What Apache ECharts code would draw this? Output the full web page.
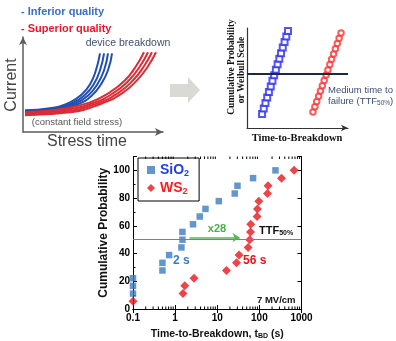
<!DOCTYPE html>
<html>
<head>
<meta charset="utf-8">
<script src="https://cdn.jsdelivr.net/npm/echarts@6/dist/echarts.min.js"></script>
<style>
  html, body { margin: 0; padding: 0; background: #fff; }
  #chart { width: 396px; height: 341px; }
</style>
</head>
<body>
<div id="chart"></div>
<script>
// main plot: time-to-breakdown (s) vs cumulative probability (%)
var sio2Time = [0.1, 0.1, 0.1, 0.5, 0.5, 0.72, 1.41, 1.49, 1.49, 2.66, 3.84, 5.25, 10.9, 26, 30.2, 70.8, 241];
var sio2Prob = [11.1, 16.7, 22.2, 27.8, 33.3, 38.9, 44.4, 50, 55.6, 61.1, 66.7, 72.2, 77.8, 83.3, 88.9, 94.4, 100];
var ws2Time  = [0.1, 1.54, 1.69, 2.81, 16.5, 28.6, 33, 54, 59, 61.5, 62.5, 88, 90, 97, 156, 161, 335, 667];
var ws2Prob  = [5.6, 11.1, 16.7, 22.2, 27.8, 33.3, 38.9, 44.4, 50, 55.6, 61.1, 66.7, 72.2, 77.8, 83.3, 88.9, 94.4, 100];
var xMajorLabels = ['0.1', '1', '10', '100', '1000'];
var xMinorTicks = [0.2, 0.3, 0.4, 0.5, 0.6, 0.7, 0.8, 0.9,
                   2, 3, 4, 5, 6, 7, 8, 9,
                   20, 30, 40, 50, 60, 70, 80, 90,
                   200, 300, 400, 500, 600, 700, 800, 900];
var ttfProb = 50;
var arrowFrom = 2.2, arrowTo = 34, arrowProb = 51.5;

// top-left sketch: current vs stress time (arbitrary units), 4 lines per bundle
var inferiorLines = [
  [[0.14, 2.28], [1.93, 2.49], [3.36, 3.12], [4.21, 3.97], [4.79, 5.02], [5.21, 6.5], [5.5, 8.28]],
  [[0.14, 2.18], [2.05, 2.42], [3.55, 3.05], [4.45, 3.94], [5.05, 5.02], [5.5, 6.5], [5.79, 8.28]],
  [[0.14, 2.08], [2.17, 2.30], [3.74, 2.98], [4.69, 3.90], [5.31, 5.02], [5.79, 6.5], [6.07, 8.28]],
  [[0.14, 1.97], [2.29, 2.18], [3.93, 2.92], [4.93, 3.86], [5.57, 5.02], [6.07, 6.5], [6.36, 8.28]]
];
var superiorLines = [
  [[0.14, 2.07], [2.64, 2.39], [4.79, 3.12], [6.21, 4.18], [7.29, 5.44], [8.07, 6.92], [8.64, 8.39]],
  [[0.14, 1.97], [2.88, 2.29], [5.02, 3.05], [6.50, 4.14], [7.57, 5.44], [8.36, 6.92], [8.93, 8.39]],
  [[0.14, 1.86], [3.12, 2.18], [5.26, 2.98], [6.79, 4.10], [7.86, 5.44], [8.64, 6.92], [9.21, 8.39]],
  [[0.14, 1.76], [3.36, 2.07], [5.50, 2.92], [7.07, 4.07], [8.14, 5.44], [8.93, 6.92], [9.50, 8.39]]
];

// top-right sketch: weibull plot (arbitrary units)
var blueTX = [1.49, 1.66, 1.83, 2.0, 2.17, 2.35, 2.52, 2.69, 2.86, 3.03, 3.2, 3.37, 3.54, 3.72, 3.89, 4.06];
var blueTY = [1.4, 1.95, 2.5, 3.06, 3.61, 4.16, 4.72, 5.27, 5.82, 6.38, 6.93, 7.48, 8.04, 8.59, 9.14, 9.7];
var redTX  = [6.53, 6.72, 6.9, 7.09, 7.27, 7.46, 7.64, 7.83, 8.01, 8.2, 8.38, 8.57, 8.75, 8.94, 9.12, 9.31];
var redTY  = [1.6, 2.13, 2.65, 3.18, 3.71, 4.23, 4.76, 5.29, 5.81, 6.34, 6.87, 7.39, 7.92, 8.45, 8.97, 9.5];
var medianLevel = 5.4;

function zip(xs, ys) {
  var out = [];
  for (var i = 0; i < xs.length; i++) out.push([xs[i], ys[i]]);
  return out;
}

var SANS = '"Liberation Sans", Arial, sans-serif';
var SERIF = '"Liberation Serif", "Times New Roman", serif';
var myChart = echarts.init(document.getElementById('chart'), null, {renderer: 'canvas'});

var series = [];

// sketch bundles
inferiorLines.forEach(function (l) {
  series.push({type: 'line', xAxisIndex: 2, yAxisIndex: 2, data: l, smooth: true, symbol: 'none',
    lineStyle: {color: '#1f4fb0', width: 2}, silent: true});
});
superiorLines.forEach(function (l) {
  series.push({type: 'line', xAxisIndex: 2, yAxisIndex: 2, data: l, smooth: true, symbol: 'none',
    lineStyle: {color: '#dc2c36', width: 2}, silent: true});
});

series.push({
  type: 'scatter', xAxisIndex: 3, yAxisIndex: 3, data: zip(blueTX, blueTY),
  symbol: 'emptyRect', symbolSize: 6, itemStyle: {color: '#2b2cf2', borderWidth: 1.3},
  markLine: {silent: true, symbol: ['none', 'none'], label: {show: false},
    lineStyle: {color: '#1b2a44', width: 2, type: 'solid'}, data: [{yAxis: medianLevel}]}
});
series.push({
  type: 'scatter', xAxisIndex: 3, yAxisIndex: 3, data: zip(redTX, redTY),
  symbol: 'emptyCircle', symbolSize: 5.5, itemStyle: {color: '#ff3030', borderWidth: 1.2}
});

// minor log ticks on bottom and top of main plot
series.push({
  type: 'custom', xAxisIndex: 0, yAxisIndex: 0, silent: true, data: xMinorTicks,
  renderItem: function (params, api) {
    var v = api.value(0);
    var b = api.coord([v, 0]);
    var t = api.coord([v, 110]);
    return {type: 'group', children: [
      {type: 'line', shape: {x1: b[0], y1: b[1], x2: b[0], y2: b[1] - 2.5}, style: {stroke: '#000', lineWidth: 1}},
      {type: 'line', shape: {x1: t[0], y1: t[1], x2: t[0], y2: t[1] + 2.5}, style: {stroke: '#000', lineWidth: 1}}
    ]};
  },
  encode: {x: 0}
});

series.push({
  name: 'SiO2', type: 'scatter', xAxisIndex: 0, yAxisIndex: 0, data: zip(sio2Time, sio2Prob),
  symbol: 'rect', symbolSize: 6.5, itemStyle: {color: '#3b7cc0'}, z: 3,
  markLine: {silent: true, animation: false, symbol: ['none', 'none'], label: {show: false}, data: [
    {yAxis: ttfProb, lineStyle: {color: '#808080', width: 1, type: 'solid'}},
    [{coord: [arrowFrom, arrowProb]},
     {coord: [arrowTo, arrowProb], symbol: 'arrow', symbolSize: 7, lineStyle: {color: '#56b656', width: 1.5, type: 'solid'}}]
  ]}
});
series.push({
  name: 'WS2', type: 'scatter', xAxisIndex: 0, yAxisIndex: 0, data: zip(ws2Time, ws2Prob),
  symbol: 'diamond', symbolSize: 9, itemStyle: {color: '#e8151c'}, z: 4
});

var option = {
  animation: false,
  backgroundColor: '#fff',
  textStyle: {fontFamily: SANS},
  grid: [
    {left: 133, top: 156.5, width: 168.5, height: 153.5},
    {left: 23, top: 37, width: 140, height: 95},
    {left: 247, top: 28, width: 101, height: 100}
  ],
  legend: {
    left: 138, top: 158, orient: 'vertical', itemGap: 3, padding: [5, 10, 5, 9],
    borderColor: '#000', borderWidth: 1, itemWidth: 8, itemHeight: 8, selectedMode: false,
    data: [{name: 'SiO2', icon: 'rect'}, {name: 'WS2', icon: 'diamond'}],
    formatter: function (name) {
      return name === 'SiO2' ? '{b|SiO}{bs|2}' : '{r|WS}{rs|2}';
    },
    textStyle: {
      fontFamily: SANS,
      rich: {
        b: {color: '#2240e6', fontSize: 14, fontWeight: 'bold', fontFamily: SANS},
        bs: {color: '#2240e6', fontSize: 9, fontWeight: 'bold', fontFamily: SANS, padding: [7, 0, 0, 0]},
        r: {color: '#ff1c1c', fontSize: 14, fontWeight: 'bold', fontFamily: SANS},
        rs: {color: '#ff1c1c', fontSize: 9, fontWeight: 'bold', fontFamily: SANS, padding: [7, 0, 0, 0]}
      }
    }
  },
  xAxis: [
    {
      type: 'log', logBase: 10, min: 0.1, max: 1000, gridIndex: 0,
      name: '{a|Time-to-Breakdown, t}{s|BD}{a| (s)}', nameLocation: 'middle', nameGap: 19,
      nameTextStyle: {rich: {
        a: {fontSize: 10.5, fontWeight: 'bold', color: '#111', fontFamily: SANS},
        s: {fontSize: 7, fontWeight: 'bold', color: '#111', fontFamily: SANS, padding: [5, 0, 0, 0]}
      }},
      axisLine: {lineStyle: {color: '#000', width: 1}},
      axisTick: {inside: true, length: 4, lineStyle: {color: '#000'}},
      axisLabel: {margin: 4, fontSize: 10, fontWeight: 'bold', color: '#000', fontFamily: SANS,
        formatter: function (v) {
          var i = Math.round(Math.log10(v)) + 1;
          return xMajorLabels[i] !== undefined ? xMajorLabels[i] : '';
        }},
      splitLine: {show: false}
    },
    {
      type: 'log', logBase: 10, min: 0.1, max: 1000, gridIndex: 0, position: 'top',
      axisLine: {lineStyle: {color: '#000', width: 1}},
      axisTick: {inside: true, length: 4, lineStyle: {color: '#000'}},
      axisLabel: {show: false}, splitLine: {show: false}
    },
    {
      type: 'value', min: 0, max: 10, gridIndex: 1,
      axisLine: {symbol: ['none', 'arrow'], symbolSize: [6, 8], lineStyle: {color: '#5c5c5c', width: 1.5}},
      axisTick: {show: false}, axisLabel: {show: false}, splitLine: {show: false}
    },
    {
      type: 'value', min: 0, max: 10, gridIndex: 2,
      axisLine: {symbol: ['none', 'arrow'], symbolSize: [5, 7], lineStyle: {color: '#333', width: 1.2}},
      axisTick: {show: false}, axisLabel: {show: false}, splitLine: {show: false}
    }
  ],
  yAxis: [
    {
      type: 'value', min: 0, max: 110, interval: 20, gridIndex: 0,
      name: 'Cumulative Probability', nameLocation: 'middle', nameGap: 20,
      nameTextStyle: {fontSize: 12, fontWeight: 'bold', color: '#111', fontFamily: SANS},
      axisLine: {show: true, lineStyle: {color: '#000', width: 1}},
      axisTick: {inside: true, length: 4, lineStyle: {color: '#000'}},
      minorTick: {show: true, splitNumber: 2, length: 2.5, lineStyle: {color: '#000'}},
      axisLabel: {margin: 3, fontSize: 10, fontWeight: 'bold', color: '#000', showMaxLabel: false, fontFamily: SANS},
      splitLine: {show: false}
    },
    {
      type: 'value', min: 0, max: 110, interval: 20, gridIndex: 0, position: 'right',
      axisLine: {show: true, lineStyle: {color: '#000', width: 1}},
      axisTick: {inside: true, length: 4, lineStyle: {color: '#000'}},
      axisLabel: {show: false}, splitLine: {show: false}
    },
    {
      type: 'value', min: 0, max: 10, gridIndex: 1,
      axisLine: {show: true, symbol: ['none', 'arrow'], symbolSize: [6, 8], lineStyle: {color: '#5c5c5c', width: 1.5}},
      axisTick: {show: false}, axisLabel: {show: false}, splitLine: {show: false}
    },
    {
      type: 'value', min: 0, max: 10, gridIndex: 2,
      axisLine: {show: true, lineStyle: {color: '#333', width: 1.2}},
      axisTick: {show: false}, axisLabel: {show: false}, splitLine: {show: false}
    }
  ],
  graphic: [
    // sketch texts
    {type: 'text', x: 21, y: 12, style: {text: '- Inferior quality', fill: '#3b6ec4', font: 'bold 11px ' + SANS, verticalAlign: 'middle', textVerticalAlign: 'middle'}},
    {type: 'text', x: 21, y: 29, style: {text: '- Superior quality', fill: '#e8182a', font: 'bold 11px ' + SANS, verticalAlign: 'middle', textVerticalAlign: 'middle'}},
    {type: 'text', x: 128, y: 43, style: {text: 'device breakdown', fill: '#3f5070', font: '10.5px ' + SANS, align: 'center', textAlign: 'center', verticalAlign: 'middle', textVerticalAlign: 'middle'}},
    {type: 'text', x: 77, y: 122, style: {text: '(constant field stress)', fill: '#555', font: '9.5px ' + SANS, align: 'center', textAlign: 'center', verticalAlign: 'middle', textVerticalAlign: 'middle'}},
    {type: 'text', x: 12, y: 85, rotation: Math.PI / 2, style: {text: 'Current', fill: '#444', font: '16px ' + SANS, align: 'center', textAlign: 'center', verticalAlign: 'middle', textVerticalAlign: 'middle'}},
    {type: 'text', x: 87, y: 142, style: {text: 'Stress time', fill: '#444', font: '16px ' + SANS, align: 'center', textAlign: 'center', verticalAlign: 'middle', textVerticalAlign: 'middle'}},
    {type: 'polygon', shape: {points: [[170, 84], [188, 84], [188, 77], [200, 90], [188, 103], [188, 97], [170, 97]]}, style: {fill: '#d9d9d5'}},
    {type: 'text', x: 232, y: 67, rotation: Math.PI / 2, style: {text: 'Cumulative Probability', fill: '#111', font: 'bold 9.5px ' + SERIF, align: 'center', textAlign: 'center', verticalAlign: 'middle', textVerticalAlign: 'middle'}},
    {type: 'text', x: 242, y: 70, rotation: Math.PI / 2, style: {text: 'or Weibull Scale', fill: '#111', font: 'bold 9.5px ' + SERIF, align: 'center', textAlign: 'center', verticalAlign: 'middle', textVerticalAlign: 'middle'}},
    {type: 'text', x: 297, y: 138, style: {text: 'Time-to-Breakdown', fill: '#111', font: 'bold 10.5px ' + SERIF, align: 'center', textAlign: 'center', verticalAlign: 'middle', textVerticalAlign: 'middle'}},
    {type: 'text', x: 328, y: 90, style: {text: 'Medium time to', fill: '#3a4f73', font: '9.5px ' + SANS, verticalAlign: 'middle', textVerticalAlign: 'middle'}},
    {type: 'text', x: 328, y: 101, style: {text: '{a|failure (TTF}{s|50%}{a|)}', font: '9.5px ' + SANS, verticalAlign: 'middle', textVerticalAlign: 'middle',
      rich: {a: {fill: '#3a4f73', color: '#3a4f73', fontSize: 9.5, fontFamily: SANS}, s: {fill: '#3a4f73', color: '#3a4f73', fontSize: 6.5, fontFamily: SANS, padding: [4, 0, 0, 0]}}}},
    // main plot annotations
    {type: 'text', x: 217, y: 229, style: {text: 'x28', fill: '#4cae4c', font: 'bold 11px ' + SANS, align: 'center', textAlign: 'center', verticalAlign: 'middle', textVerticalAlign: 'middle'}},
    {type: 'text', x: 259, y: 231, style: {text: '{a|TTF}{s|50%}', font: 'bold 11px ' + SANS, verticalAlign: 'middle', textVerticalAlign: 'middle',
      rich: {a: {fill: '#111', color: '#111', fontSize: 11, fontWeight: 'bold', fontFamily: SANS}, s: {fill: '#111', color: '#111', fontSize: 7, fontWeight: 'bold', fontFamily: SANS, padding: [5, 0, 0, 0]}}}},
    {type: 'text', x: 173, y: 261, style: {text: '2 s', fill: '#3b7cc0', font: 'bold 12px ' + SANS, verticalAlign: 'middle', textVerticalAlign: 'middle'}},
    {type: 'text', x: 243, y: 261, style: {text: '56 s', fill: '#e8151c', font: 'bold 12px ' + SANS, verticalAlign: 'middle', textVerticalAlign: 'middle'}},
    {type: 'text', x: 257, y: 300, style: {text: '7 MV/cm', fill: '#111', font: 'bold 9.5px ' + SANS, verticalAlign: 'middle', textVerticalAlign: 'middle'}}
  ],
  series: series
};

myChart.setOption(option);
</script>
</body>
</html>
